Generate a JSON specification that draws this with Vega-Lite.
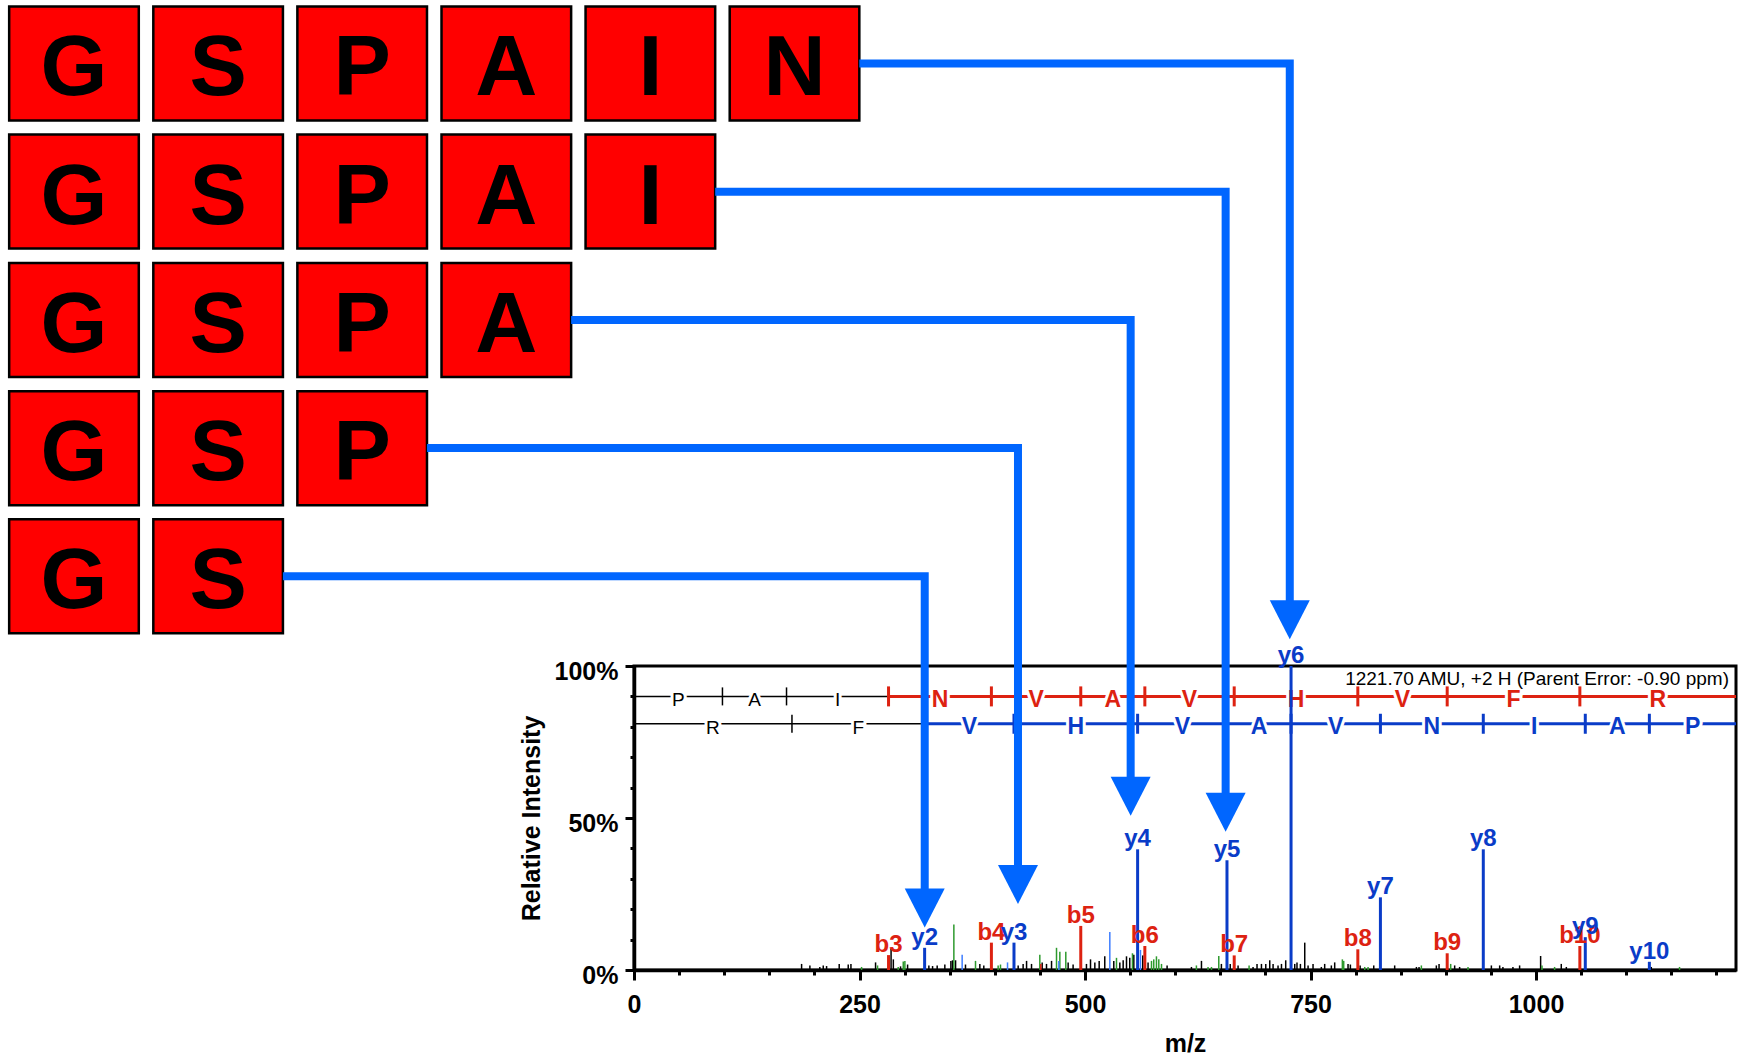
{
  "$schema": "https://vega.github.io/schema/vega-lite/v6.json",
  "width": 1102,
  "height": 304,
  "autosize": {"type": "none"},
  "padding": {"left": 634, "top": 666, "right": 9, "bottom": 86},
  "background": "white",
  "config": {
    "view": {"stroke": "#000000", "strokeWidth": 3},
    "font": "Liberation Sans"
  },
  "datasets": {
    "seqseg": [
      {"mz": 0, "mz2": 282.18, "pct": 90, "series": "black"},
      {"mz": 282.18, "mz2": 1221.7, "pct": 90, "series": "b-ion"},
      {"mz": 0, "mz2": 322.19, "pct": 81, "series": "black"},
      {"mz": 322.19, "mz2": 1221.7, "pct": 81, "series": "y-ion"}
    ],
    "seqlet": [
      {"mz": 49.03, "pct": 90, "aa": "P", "series": "black"},
      {"mz": 133.58, "pct": 90, "aa": "A", "series": "black"},
      {"mz": 225.64, "pct": 90, "aa": "I", "series": "black"},
      {"mz": 339.2, "pct": 90, "aa": "N", "series": "b-ion"},
      {"mz": 445.76, "pct": 90, "aa": "V", "series": "b-ion"},
      {"mz": 530.81, "pct": 90, "aa": "A", "series": "b-ion"},
      {"mz": 615.87, "pct": 90, "aa": "V", "series": "b-ion"},
      {"mz": 733.93, "pct": 90, "aa": "H", "series": "b-ion"},
      {"mz": 851.99, "pct": 90, "aa": "V", "series": "b-ion"},
      {"mz": 975.06, "pct": 90, "aa": "F", "series": "b-ion"},
      {"mz": 1135.15, "pct": 90, "aa": "R", "series": "b-ion"},
      {"mz": 87.56, "pct": 81, "aa": "R", "series": "black"},
      {"mz": 248.66, "pct": 81, "aa": "F", "series": "black"},
      {"mz": 371.73, "pct": 81, "aa": "V", "series": "y-ion"},
      {"mz": 489.79, "pct": 81, "aa": "H", "series": "y-ion"},
      {"mz": 607.86, "pct": 81, "aa": "V", "series": "y-ion"},
      {"mz": 692.91, "pct": 81, "aa": "A", "series": "y-ion"},
      {"mz": 777.96, "pct": 81, "aa": "V", "series": "y-ion"},
      {"mz": 884.52, "pct": 81, "aa": "N", "series": "y-ion"},
      {"mz": 998.08, "pct": 81, "aa": "I", "series": "y-ion"},
      {"mz": 1090.14, "pct": 81, "aa": "A", "series": "y-ion"},
      {"mz": 1173.68, "pct": 81, "aa": "P", "series": "y-ion"}
    ],
    "seqtick": [
      {"mz": 98.06, "pct": 90, "series": "black"},
      {"mz": 169.09, "pct": 90, "series": "black"},
      {"mz": 282.18, "pct": 90, "series": "b-ion"},
      {"mz": 396.22, "pct": 90, "series": "b-ion"},
      {"mz": 495.29, "pct": 90, "series": "b-ion"},
      {"mz": 566.33, "pct": 90, "series": "b-ion"},
      {"mz": 665.40, "pct": 90, "series": "b-ion"},
      {"mz": 802.45, "pct": 90, "series": "b-ion"},
      {"mz": 901.52, "pct": 90, "series": "b-ion"},
      {"mz": 1048.59, "pct": 90, "series": "b-ion"},
      {"mz": 175.12, "pct": 81, "series": "black"},
      {"mz": 322.19, "pct": 81, "series": "y-ion"},
      {"mz": 421.26, "pct": 81, "series": "y-ion"},
      {"mz": 558.32, "pct": 81, "series": "y-ion"},
      {"mz": 657.39, "pct": 81, "series": "y-ion"},
      {"mz": 728.42, "pct": 81, "series": "y-ion"},
      {"mz": 827.49, "pct": 81, "series": "y-ion"},
      {"mz": 941.54, "pct": 81, "series": "y-ion"},
      {"mz": 1054.62, "pct": 81, "series": "y-ion"},
      {"mz": 1125.66, "pct": 81, "series": "y-ion"}
    ],
    "noise": [
      {"mz": 185.8, "pct": 2.0, "series": "black"},
      {"mz": 195, "pct": 1.5, "series": "black"},
      {"mz": 206, "pct": 1.0, "series": "black"},
      {"mz": 209.8, "pct": 1.5, "series": "black"},
      {"mz": 213.5, "pct": 1.3, "series": "black"},
      {"mz": 227.5, "pct": 2.0, "series": "black"},
      {"mz": 237.5, "pct": 1.8, "series": "black"},
      {"mz": 240.5, "pct": 2.0, "series": "black"},
      {"mz": 267.8, "pct": 2.5, "series": "black"},
      {"mz": 285, "pct": 7.0, "series": "black"},
      {"mz": 287.5, "pct": 3.5, "series": "black"},
      {"mz": 295.5, "pct": 1.2, "series": "black"},
      {"mz": 303.3, "pct": 1.8, "series": "black"},
      {"mz": 326.9, "pct": 1.5, "series": "black"},
      {"mz": 331, "pct": 1.3, "series": "black"},
      {"mz": 336.1, "pct": 1.5, "series": "black"},
      {"mz": 344.6, "pct": 1.8, "series": "black"},
      {"mz": 351.3, "pct": 3.0, "series": "black"},
      {"mz": 353.1, "pct": 3.2, "series": "black"},
      {"mz": 356.5, "pct": 3.2, "series": "black"},
      {"mz": 367.5, "pct": 1.8, "series": "black"},
      {"mz": 383.4, "pct": 2.0, "series": "black"},
      {"mz": 387.8, "pct": 1.5, "series": "black"},
      {"mz": 425.9, "pct": 1.5, "series": "black"},
      {"mz": 431.4, "pct": 2.0, "series": "black"},
      {"mz": 435.2, "pct": 3.0, "series": "black"},
      {"mz": 440.7, "pct": 2.0, "series": "black"},
      {"mz": 452.5, "pct": 2.5, "series": "black"},
      {"mz": 457.3, "pct": 2.0, "series": "black"},
      {"mz": 462.9, "pct": 3.0, "series": "black"},
      {"mz": 481.3, "pct": 2.5, "series": "black"},
      {"mz": 486.8, "pct": 1.8, "series": "black"},
      {"mz": 501.6, "pct": 2.0, "series": "black"},
      {"mz": 506.1, "pct": 3.5, "series": "black"},
      {"mz": 510.9, "pct": 2.5, "series": "black"},
      {"mz": 515.7, "pct": 3.0, "series": "black"},
      {"mz": 521.9, "pct": 4.5, "series": "black"},
      {"mz": 531.9, "pct": 3.0, "series": "black"},
      {"mz": 538.6, "pct": 2.5, "series": "black"},
      {"mz": 542.3, "pct": 3.2, "series": "black"},
      {"mz": 546, "pct": 4.5, "series": "black"},
      {"mz": 549.6, "pct": 4.0, "series": "black"},
      {"mz": 554.1, "pct": 5.0, "series": "black"},
      {"mz": 564, "pct": 4.8, "series": "black"},
      {"mz": 569.9, "pct": 2.5, "series": "black"},
      {"mz": 591, "pct": 1.5, "series": "black"},
      {"mz": 618, "pct": 1.0, "series": "black"},
      {"mz": 629.1, "pct": 3.0, "series": "black"},
      {"mz": 651.2, "pct": 2.0, "series": "black"},
      {"mz": 661, "pct": 2.0, "series": "black"},
      {"mz": 669.7, "pct": 1.5, "series": "black"},
      {"mz": 686.3, "pct": 1.0, "series": "black"},
      {"mz": 690.7, "pct": 2.0, "series": "black"},
      {"mz": 695.6, "pct": 2.0, "series": "black"},
      {"mz": 700.4, "pct": 2.0, "series": "black"},
      {"mz": 704.8, "pct": 3.2, "series": "black"},
      {"mz": 708.5, "pct": 2.0, "series": "black"},
      {"mz": 714, "pct": 1.5, "series": "black"},
      {"mz": 717.8, "pct": 2.0, "series": "black"},
      {"mz": 722.5, "pct": 3.2, "series": "black"},
      {"mz": 732.5, "pct": 2.0, "series": "black"},
      {"mz": 735, "pct": 2.5, "series": "black"},
      {"mz": 738.8, "pct": 2.0, "series": "black"},
      {"mz": 743.6, "pct": 9.0, "series": "black"},
      {"mz": 747.3, "pct": 1.5, "series": "black"},
      {"mz": 752.8, "pct": 2.0, "series": "black"},
      {"mz": 762, "pct": 1.0, "series": "black"},
      {"mz": 765.7, "pct": 2.0, "series": "black"},
      {"mz": 773.1, "pct": 1.5, "series": "black"},
      {"mz": 776.8, "pct": 2.5, "series": "black"},
      {"mz": 791.6, "pct": 2.0, "series": "black"},
      {"mz": 794.2, "pct": 1.8, "series": "black"},
      {"mz": 805, "pct": 1.5, "series": "black"},
      {"mz": 820.1, "pct": 1.5, "series": "black"},
      {"mz": 843.3, "pct": 1.5, "series": "black"},
      {"mz": 867.4, "pct": 1.0, "series": "black"},
      {"mz": 870.3, "pct": 1.0, "series": "black"},
      {"mz": 889.5, "pct": 1.5, "series": "black"},
      {"mz": 892.5, "pct": 2.0, "series": "black"},
      {"mz": 909.8, "pct": 1.5, "series": "black"},
      {"mz": 915.3, "pct": 1.0, "series": "black"},
      {"mz": 950.5, "pct": 1.5, "series": "black"},
      {"mz": 959.7, "pct": 1.5, "series": "black"},
      {"mz": 963.3, "pct": 1.0, "series": "black"},
      {"mz": 974.4, "pct": 1.0, "series": "black"},
      {"mz": 981.8, "pct": 1.5, "series": "black"},
      {"mz": 1005.1, "pct": 4.6, "series": "black"},
      {"mz": 1028, "pct": 2.0, "series": "black"},
      {"mz": 1033.6, "pct": 1.0, "series": "black"},
      {"mz": 1127.8, "pct": 1.0, "series": "black"},
      {"mz": 252.3, "pct": 1.0, "series": "green"},
      {"mz": 270, "pct": 1.5, "series": "green"},
      {"mz": 292.9, "pct": 1.0, "series": "green"},
      {"mz": 298.5, "pct": 2.8, "series": "green"},
      {"mz": 300.3, "pct": 3.0, "series": "green"},
      {"mz": 354.6, "pct": 15.0, "series": "green"},
      {"mz": 378.6, "pct": 3.0, "series": "green"},
      {"mz": 403.7, "pct": 1.5, "series": "green"},
      {"mz": 406.3, "pct": 1.8, "series": "green"},
      {"mz": 449.9, "pct": 5.0, "series": "green"},
      {"mz": 468.4, "pct": 7.3, "series": "green"},
      {"mz": 472.1, "pct": 6.0, "series": "green"},
      {"mz": 478.7, "pct": 6.0, "series": "green"},
      {"mz": 534.9, "pct": 4.0, "series": "green"},
      {"mz": 552.6, "pct": 5.5, "series": "green"},
      {"mz": 573.7, "pct": 3.0, "series": "green"},
      {"mz": 576.2, "pct": 3.5, "series": "green"},
      {"mz": 579.2, "pct": 4.5, "series": "green"},
      {"mz": 581.8, "pct": 3.5, "series": "green"},
      {"mz": 584.8, "pct": 2.0, "series": "green"},
      {"mz": 623.5, "pct": 1.5, "series": "green"},
      {"mz": 636.4, "pct": 1.0, "series": "green"},
      {"mz": 640.2, "pct": 1.0, "series": "green"},
      {"mz": 648.3, "pct": 4.6, "series": "green"},
      {"mz": 681.9, "pct": 1.5, "series": "green"},
      {"mz": 785.3, "pct": 3.5, "series": "green"},
      {"mz": 786.8, "pct": 3.0, "series": "green"},
      {"mz": 810.1, "pct": 1.0, "series": "green"},
      {"mz": 813.8, "pct": 1.0, "series": "green"},
      {"mz": 872.9, "pct": 1.5, "series": "green"},
      {"mz": 905.4, "pct": 2.0, "series": "green"},
      {"mz": 924.6, "pct": 1.0, "series": "green"},
      {"mz": 1006.6, "pct": 1.5, "series": "green"},
      {"mz": 1020.6, "pct": 1.0, "series": "green"},
      {"mz": 1159.1, "pct": 1.0, "series": "green"},
      {"mz": 363.8, "pct": 5.0, "series": "blue"},
      {"mz": 414.1, "pct": 2.5, "series": "blue"},
      {"mz": 471, "pct": 3.0, "series": "blue"},
      {"mz": 527.5, "pct": 12.5, "series": "blue"},
      {"mz": 561.5, "pct": 6.6, "series": "blue"},
      {"mz": 451, "pct": 2.0, "series": "b-ion"}
    ],
    "ions": [
      {"mz": 282.18, "pct": 4.9, "series": "b-ion", "label": "b3"},
      {"mz": 396.22, "pct": 9.0, "series": "b-ion", "label": "b4"},
      {"mz": 495.29, "pct": 14.5, "series": "b-ion", "label": "b5"},
      {"mz": 566.33, "pct": 7.9, "series": "b-ion", "label": "b6"},
      {"mz": 665.40, "pct": 4.8, "series": "b-ion", "label": "b7"},
      {"mz": 802.45, "pct": 6.8, "series": "b-ion", "label": "b8"},
      {"mz": 901.52, "pct": 5.5, "series": "b-ion", "label": "b9"},
      {"mz": 1048.59, "pct": 7.9, "series": "b-ion", "label": "b10"},
      {"mz": 322.19, "pct": 7.3, "series": "y-ion", "label": "y2"},
      {"mz": 421.26, "pct": 9.0, "series": "y-ion", "label": "y3"},
      {"mz": 558.32, "pct": 39.7, "series": "y-ion", "label": "y4"},
      {"mz": 657.39, "pct": 36.1, "series": "y-ion", "label": "y5"},
      {"mz": 728.42, "pct": 100, "series": "y-ion", "label": "y6"},
      {"mz": 827.49, "pct": 23.9, "series": "y-ion", "label": "y7"},
      {"mz": 941.54, "pct": 39.7, "series": "y-ion", "label": "y8"},
      {"mz": 1054.62, "pct": 10.8, "series": "y-ion", "label": "y9"},
      {"mz": 1125.66, "pct": 2.7, "series": "y-ion", "label": "y10"}
    ],
    "boxes": [
      {"frag": "GSPAIN", "aa": "G", "mz": -692.7, "mz2": -549.0, "pct": 316.9, "pct2": 279.4},
      {"frag": "GSPAIN", "aa": "S", "mz": -532.9, "mz2": -389.2, "pct": 316.9, "pct2": 279.4},
      {"frag": "GSPAIN", "aa": "P", "mz": -373.2, "mz2": -229.5, "pct": 316.9, "pct2": 279.4},
      {"frag": "GSPAIN", "aa": "A", "mz": -213.4, "mz2": -69.7, "pct": 316.9, "pct2": 279.4},
      {"frag": "GSPAIN", "aa": "I", "mz": -53.7, "mz2": 90.0, "pct": 316.9, "pct2": 279.4},
      {"frag": "GSPAIN", "aa": "N", "mz": 106.1, "mz2": 249.8, "pct": 316.9, "pct2": 279.4},
      {"frag": "GSPAI", "aa": "G", "mz": -692.7, "mz2": -549.0, "pct": 274.8, "pct2": 237.3},
      {"frag": "GSPAI", "aa": "S", "mz": -532.9, "mz2": -389.2, "pct": 274.8, "pct2": 237.3},
      {"frag": "GSPAI", "aa": "P", "mz": -373.2, "mz2": -229.5, "pct": 274.8, "pct2": 237.3},
      {"frag": "GSPAI", "aa": "A", "mz": -213.4, "mz2": -69.7, "pct": 274.8, "pct2": 237.3},
      {"frag": "GSPAI", "aa": "I", "mz": -53.7, "mz2": 90.0, "pct": 274.8, "pct2": 237.3},
      {"frag": "GSPA", "aa": "G", "mz": -692.7, "mz2": -549.0, "pct": 232.6, "pct2": 195.1},
      {"frag": "GSPA", "aa": "S", "mz": -532.9, "mz2": -389.2, "pct": 232.6, "pct2": 195.1},
      {"frag": "GSPA", "aa": "P", "mz": -373.2, "mz2": -229.5, "pct": 232.6, "pct2": 195.1},
      {"frag": "GSPA", "aa": "A", "mz": -213.4, "mz2": -69.7, "pct": 232.6, "pct2": 195.1},
      {"frag": "GSP", "aa": "G", "mz": -692.7, "mz2": -549.0, "pct": 190.4, "pct2": 152.9},
      {"frag": "GSP", "aa": "S", "mz": -532.9, "mz2": -389.2, "pct": 190.4, "pct2": 152.9},
      {"frag": "GSP", "aa": "P", "mz": -373.2, "mz2": -229.5, "pct": 190.4, "pct2": 152.9},
      {"frag": "GS", "aa": "G", "mz": -692.7, "mz2": -549.0, "pct": 148.3, "pct2": 110.8},
      {"frag": "GS", "aa": "S", "mz": -532.9, "mz2": -389.2, "pct": 148.3, "pct2": 110.8}
    ],
    "boxletters": [
      {"frag": "GSPAIN", "aa": "G", "mz": -620.85, "pct": 298.2},
      {"frag": "GSPAIN", "aa": "S", "mz": -461.05, "pct": 298.2},
      {"frag": "GSPAIN", "aa": "P", "mz": -301.35, "pct": 298.2},
      {"frag": "GSPAIN", "aa": "A", "mz": -141.55, "pct": 298.2},
      {"frag": "GSPAIN", "aa": "I", "mz": 18.15, "pct": 298.2},
      {"frag": "GSPAIN", "aa": "N", "mz": 177.95, "pct": 298.2},
      {"frag": "GSPAI", "aa": "G", "mz": -620.85, "pct": 256.0},
      {"frag": "GSPAI", "aa": "S", "mz": -461.05, "pct": 256.0},
      {"frag": "GSPAI", "aa": "P", "mz": -301.35, "pct": 256.0},
      {"frag": "GSPAI", "aa": "A", "mz": -141.55, "pct": 256.0},
      {"frag": "GSPAI", "aa": "I", "mz": 18.15, "pct": 256.0},
      {"frag": "GSPA", "aa": "G", "mz": -620.85, "pct": 213.8},
      {"frag": "GSPA", "aa": "S", "mz": -461.05, "pct": 213.8},
      {"frag": "GSPA", "aa": "P", "mz": -301.35, "pct": 213.8},
      {"frag": "GSPA", "aa": "A", "mz": -141.55, "pct": 213.8},
      {"frag": "GSP", "aa": "G", "mz": -620.85, "pct": 171.7},
      {"frag": "GSP", "aa": "S", "mz": -461.05, "pct": 171.7},
      {"frag": "GSP", "aa": "P", "mz": -301.35, "pct": 171.7},
      {"frag": "GS", "aa": "G", "mz": -620.85, "pct": 129.5},
      {"frag": "GS", "aa": "S", "mz": -461.05, "pct": 129.5}
    ],
    "arrows": [
      {"arrow": "y6", "seq": 1, "mz": 249.8, "pct": 298.2},
      {"arrow": "y6", "seq": 2, "mz": 727.0, "pct": 298.2},
      {"arrow": "y6", "seq": 3, "mz": 727.0, "pct": 118.5},
      {"arrow": "y5", "seq": 1, "mz": 90.0, "pct": 256.0},
      {"arrow": "y5", "seq": 2, "mz": 655.9, "pct": 256.0},
      {"arrow": "y5", "seq": 3, "mz": 655.9, "pct": 55.6},
      {"arrow": "y4", "seq": 1, "mz": -69.7, "pct": 213.8},
      {"arrow": "y4", "seq": 2, "mz": 550.6, "pct": 213.8},
      {"arrow": "y4", "seq": 3, "mz": 550.6, "pct": 60.6},
      {"arrow": "y3", "seq": 1, "mz": -229.5, "pct": 171.7},
      {"arrow": "y3", "seq": 2, "mz": 425.7, "pct": 171.7},
      {"arrow": "y3", "seq": 3, "mz": 425.7, "pct": 31.5},
      {"arrow": "y2", "seq": 1, "mz": -389.2, "pct": 129.5},
      {"arrow": "y2", "seq": 2, "mz": 322.3, "pct": 129.5},
      {"arrow": "y2", "seq": 3, "mz": 322.3, "pct": 23.3}
    ],
    "heads": [
      {"arrow": "y6", "mz": 727.0, "pct": 108.8},
      {"arrow": "y5", "mz": 655.9, "pct": 45.5},
      {"arrow": "y4", "mz": 550.6, "pct": 50.7},
      {"arrow": "y3", "mz": 425.7, "pct": 21.7},
      {"arrow": "y2", "mz": 322.3, "pct": 14.0}
    ],
    "note": [
      {"mz": 1221.7, "pct": 100, "text": "1221.70 AMU, +2 H (Parent Error: -0.90 ppm)"}
    ]
  },
  "encoding": {
    "x": {
      "field": "mz", "type": "quantitative",
      "scale": {"domain": [0, 1221.7], "nice": false, "zero": false},
      "axis": {
        "title": "m/z",
        "values": [0, 50, 100, 150, 200, 250, 300, 350, 400, 450, 500, 550, 600, 650, 700, 750, 800, 850, 900, 950, 1000, 1050, 1100, 1150, 1200],
        "format": "d",
        "labelExpr": "datum.value % 250 === 0 ? datum.label : ''",
        "grid": false,
        "domainColor": "#000000", "domainWidth": 3.5,
        "tickColor": "#000000", "tickWidth": 3,
        "tickSize": {"condition": {"test": "datum.value % 250 === 0", "value": 10}, "value": 5},
        "labelFont": "Liberation Sans", "labelFontSize": 25, "labelFontWeight": "bold", "labelColor": "#000000",
        "labelPadding": 12, "labelFlush": false, "labelOverlap": false,
        "titleFont": "Liberation Sans", "titleFontSize": 25, "titleFontWeight": "bold", "titleColor": "#000000",
        "titlePadding": 14
      }
    },
    "y": {
      "field": "pct", "type": "quantitative",
      "scale": {"domain": [0, 100], "nice": false, "zero": true},
      "axis": {
        "title": "Relative Intensity",
        "values": [0, 10, 20, 30, 40, 50, 60, 70, 80, 90, 100],
        "labelExpr": "datum.value % 50 === 0 ? datum.value + '%' : ''",
        "grid": false,
        "domainColor": "#000000", "domainWidth": 3.5,
        "tickColor": "#000000", "tickWidth": 3,
        "tickSize": {"condition": {"test": "datum.value % 50 === 0", "value": 9}, "value": 4},
        "labelFont": "Liberation Sans", "labelFontSize": 25, "labelFontWeight": "bold", "labelColor": "#000000",
        "labelPadding": 7, "labelOffset": 5, "labelFlush": false, "labelOverlap": false,
        "titleFont": "Liberation Sans", "titleFontSize": 25, "titleFontWeight": "bold", "titleColor": "#000000",
        "titlePadding": 10
      }
    }
  },
  "layer": [
    {
      "data": {"name": "seqseg"},
      "transform": [{"filter": "datum.series === 'black'"}],
      "mark": {"type": "rule", "strokeWidth": 1.5},
      "encoding": {
        "x2": {"field": "mz2"},
        "color": {"field": "series", "type": "nominal", "scale": {"domain": ["b-ion", "y-ion", "black", "green", "blue"], "range": ["#DD2211", "#0A3CC8", "#000000", "#2E9A2E", "#3D7DFF"]}, "legend": null}
      }
    },
    {
      "data": {"name": "seqseg"},
      "transform": [{"filter": "datum.series !== 'black'"}],
      "mark": {"type": "rule", "strokeWidth": 3},
      "encoding": {
        "x2": {"field": "mz2"},
        "color": {"field": "series", "type": "nominal", "legend": null}
      }
    },
    {
      "data": {"name": "seqlet"},
      "transform": [{"filter": "datum.series === 'black'"}],
      "mark": {"type": "text", "font": "Liberation Sans", "fontSize": 19, "baseline": "alphabetic", "align": "center", "dy": 10, "fill": "#ffffff", "stroke": "#ffffff", "strokeWidth": 6},
      "encoding": {"text": {"field": "aa", "type": "nominal"}}
    },
    {
      "data": {"name": "seqlet"},
      "transform": [{"filter": "datum.series !== 'black'"}],
      "mark": {"type": "text", "font": "Liberation Sans", "fontSize": 23, "fontWeight": "bold", "baseline": "alphabetic", "align": "center", "dy": 10.5, "fill": "#ffffff", "stroke": "#ffffff", "strokeWidth": 6},
      "encoding": {"text": {"field": "aa", "type": "nominal"}}
    },
    {
      "data": {"name": "seqlet"},
      "transform": [{"filter": "datum.series === 'black'"}],
      "mark": {"type": "text", "font": "Liberation Sans", "fontSize": 19, "baseline": "alphabetic", "align": "center", "dy": 10},
      "encoding": {
        "text": {"field": "aa", "type": "nominal"},
        "color": {"field": "series", "type": "nominal", "legend": null}
      }
    },
    {
      "data": {"name": "seqlet"},
      "transform": [{"filter": "datum.series !== 'black'"}],
      "mark": {"type": "text", "font": "Liberation Sans", "fontSize": 23, "fontWeight": "bold", "baseline": "alphabetic", "align": "center", "dy": 10.5},
      "encoding": {
        "text": {"field": "aa", "type": "nominal"},
        "color": {"field": "series", "type": "nominal", "legend": null}
      }
    },
    {
      "data": {"name": "seqtick"},
      "transform": [{"filter": "datum.series === 'black'"}],
      "mark": {"type": "point", "shape": "M0,-1L0,1", "size": 324, "filled": false, "strokeWidth": 1.5, "opacity": 1},
      "encoding": {"color": {"field": "series", "type": "nominal", "legend": null}}
    },
    {
      "data": {"name": "seqtick"},
      "transform": [{"filter": "datum.series !== 'black'"}],
      "mark": {"type": "point", "shape": "M0,-1L0,1", "size": 400, "filled": false, "strokeWidth": 3, "opacity": 1},
      "encoding": {"color": {"field": "series", "type": "nominal", "legend": null}}
    },
    {
      "data": {"name": "noise"},
      "mark": {"type": "rule", "strokeWidth": 1.5},
      "encoding": {
        "y2": {"datum": 0},
        "color": {"field": "series", "type": "nominal", "legend": null}
      }
    },
    {
      "data": {"name": "ions"},
      "mark": {"type": "rule", "strokeWidth": 3},
      "encoding": {
        "y2": {"datum": 0},
        "color": {"field": "series", "type": "nominal", "legend": null}
      }
    },
    {
      "data": {"name": "ions"},
      "mark": {"type": "text", "font": "Liberation Sans", "fontSize": 24, "fontWeight": "bold", "baseline": "alphabetic", "align": "center", "dy": -3},
      "encoding": {
        "text": {"field": "label", "type": "nominal"},
        "color": {"field": "series", "type": "nominal", "legend": null}
      }
    },
    {
      "data": {"name": "note"},
      "mark": {"type": "text", "font": "Liberation Sans", "fontSize": 19, "baseline": "alphabetic", "align": "right", "dx": -7, "dy": 19, "color": "#000000"},
      "encoding": {"text": {"field": "text", "type": "nominal"}}
    },
    {
      "data": {"name": "boxes"},
      "mark": {"type": "rect", "fill": "#FF0000", "stroke": "#000000", "strokeWidth": 2.5},
      "encoding": {
        "x2": {"field": "mz2"},
        "y2": {"field": "pct2"}
      }
    },
    {
      "data": {"name": "boxletters"},
      "mark": {"type": "text", "font": "Liberation Sans", "fontSize": 86, "fontWeight": "bold", "baseline": "alphabetic", "align": "center", "dy": 32, "color": "#000000"},
      "encoding": {"text": {"field": "aa", "type": "nominal"}}
    },
    {
      "data": {"name": "arrows"},
      "mark": {"type": "line", "color": "#0066FF", "strokeWidth": 8, "strokeJoin": "miter", "strokeCap": "butt"},
      "encoding": {
        "order": {"field": "seq", "type": "quantitative"},
        "detail": {"field": "arrow", "type": "nominal"}
      }
    },
    {
      "data": {"name": "heads"},
      "mark": {"type": "point", "shape": "M-1,-1.95L1,-1.95L0,0Z", "size": 1600, "filled": true, "color": "#0066FF", "opacity": 1, "strokeWidth": 0}
    }
  ]
}
